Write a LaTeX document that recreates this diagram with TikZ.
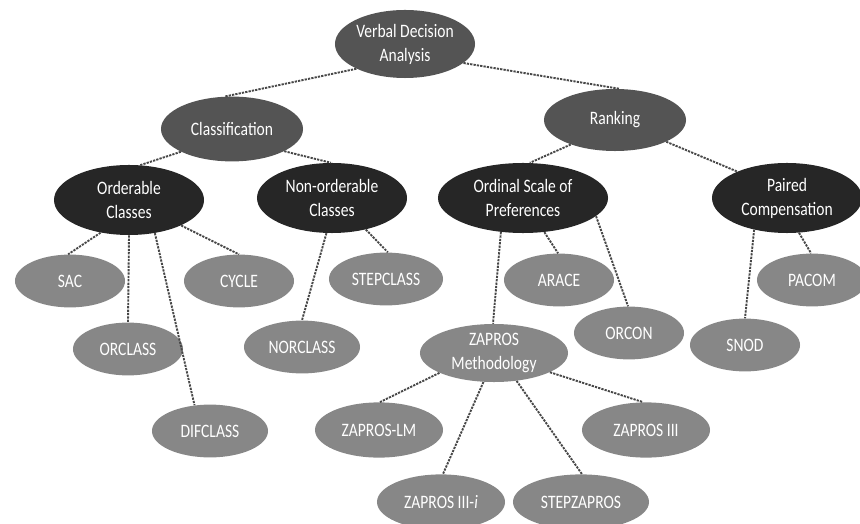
\documentclass[tikz,border=0pt]{standalone}
\usepackage{fontspec}
\newfontfamily\nodefont{Carlito}[FakeStretch=0.82]
\usetikzlibrary{shapes.geometric}
\definecolor{topgray}{gray}{0.33}
\definecolor{midgray}{gray}{0.15}
\definecolor{leafgray}{gray}{0.53}
\definecolor{linkgray}{gray}{0.28}
\begin{document}
\begin{tikzpicture}[x=0.025cm, y=-0.025cm,
    every node/.style={ellipse, inner sep=0pt, align=center, text=white,
      font=\nodefont\fontsize{13.5}{17}\selectfont},
    topnode/.style={fill=topgray, minimum width=3.55cm, minimum height=1.62cm},
    midnode/.style={fill=midgray, minimum width=3.75cm, minimum height=1.75cm},
    leafnode/.style={fill=leafgray, minimum width=2.75cm, minimum height=1.32cm},
    link/.style={draw=linkgray, line width=1.35pt, dash pattern=on 1.6pt off 0.8pt}]
    \useasboundingbox (0,0) rectangle (860,524);

    % Nodos
    \node[topnode, minimum width=3.5cm, minimum height=1.7cm] (vda) at (405,44) {Verbal Decision\\Analysis};
    \node[topnode] (cls) at (232,129) {Classification};
    \node[topnode, minimum height=1.55cm] (rank) at (615,120) {Ranking};

    \node[midnode] (ordc) at (129,200) {Orderable\\Classes};
    \node[midnode] (nonc) at (332,198) {Non-orderable\\Classes};
    \node[midnode, minimum width=4.25cm] (osp) at (523,198) {Ordinal Scale of\\Preferences};
    \node[midnode] (pcomp) at (787,198) {Paired\\Compensation};

    \node[leafnode] (sac) at (70,281) {SAC};
    \node[leafnode] (cycle) at (239,281) {CYCLE};
    \node[leafnode, minimum width=2.85cm] (stepc) at (386,279) {STEPCLASS};
    \node[leafnode] (orcl) at (128,349) {ORCLASS};
    \node[leafnode, minimum width=2.9cm] (norcl) at (302,347) {NORCLASS};
    \node[leafnode, minimum width=2.9cm] (difcl) at (210,431) {DIFCLASS};
    \node[leafnode] (arace) at (559,280) {ARACE};
    \node[leafnode] (orcon) at (629,333) {ORCON};
    \node[leafnode] (pacom) at (812,280) {PACOM};
    \node[leafnode] (snod) at (745,345) {SNOD};

    \node[leafnode, minimum width=3.7cm, minimum height=1.45cm] (zmeth) at (494,353) {ZAPROS\\Methodology};
    \node[leafnode, minimum width=3.2cm, minimum height=1.38cm] (zlm) at (379,430) {ZAPROS-LM};
    \node[leafnode, minimum width=3.2cm, minimum height=1.38cm] (ziii) at (646,430) {ZAPROS III};
    \node[leafnode, minimum width=3.2cm, minimum height=1.38cm] (ziiii) at (441,502) {ZAPROS III-\textit{i}};
    \node[leafnode, minimum width=3.4cm, minimum height=1.38cm] (stepz) at (581,502) {STEPZAPROS};

    % Enlaces
    \draw[link] (vda.-153) -- (cls.102);
    \draw[link] (vda.-18) -- (rank.82);
    \draw[link] (cls.-156) -- (ordc.72);
    \draw[link] (cls.-23) -- (nonc.92);
    \draw[link] (rank.-151) -- (osp.79);
    \draw[link] (rank.-23) -- (pcomp.152);

    \draw[link] (ordc.-131) -- (sac.94);
    \draw[link] (ordc.south) -- (orcl.north);
    \draw[link] (ordc.-52) -- (difcl.121);
    \draw[link] (ordc.-26) -- (cycle.90);
    \draw[link] (nonc.-99) -- (norcl.90);
    \draw[link] (nonc.-43) -- (stepc.86);

    \draw[link] (osp.-123) -- (zmeth.92);
    \draw[link] (osp.-58) -- (arace.92);
    \draw[link] (osp.-14) -- (orcon.92);
    \draw[link] (pcomp.-136) -- (snod.90);
    \draw[link] (pcomp.-71) -- (pacom.92);

    \draw[link] (zmeth.-160) -- (zlm.88);
    \draw[link] (zmeth.-110) -- (ziiii.86);
    \draw[link] (zmeth.-51) -- (stepz.88);
    \draw[link] (zmeth.-19) -- (ziii.96);
\end{tikzpicture}
\end{document}
